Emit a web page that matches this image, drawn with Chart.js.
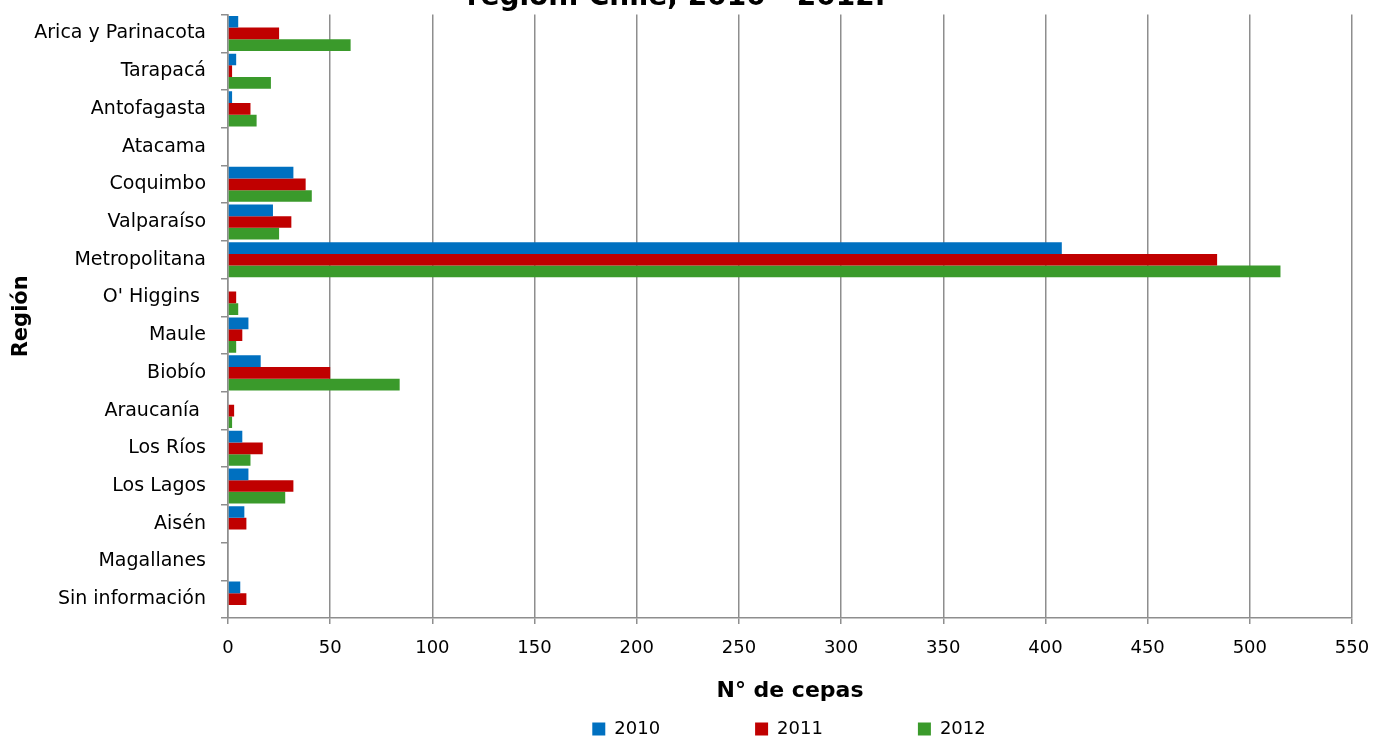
<!DOCTYPE html>
<html>
<head>
<meta charset="utf-8">
<script src="https://cdn.jsdelivr.net/npm/chart.js@4.4.0/dist/chart.umd.min.js"></script>
<style>
  html, body { margin: 0; padding: 0; background: #fff; overflow: hidden; }
  #wrap { position: relative; width: 1374px; height: 738px; overflow: hidden; }
  #box { position: absolute; left: 0; top: -19px; width: 1374px; height: 757px; }
</style>
</head>
<body>
<div id="wrap"><div id="box"><canvas id="myBarChart"></canvas></div></div>
<script>
// regiones
const regions = ['Arica y Parinacota', 'Tarapacá', 'Antofagasta', 'Atacama', 'Coquimbo', 'Valparaíso',
  'Metropolitana', "O' Higgins ", 'Maule', 'Biobío', 'Araucanía ', 'Los Ríos', 'Los Lagos', 'Aisén',
  'Magallanes', 'Sin información'];
// N° de cepas por año
const cepas2010 = [5, 4, 2, 0, 32, 22, 408, 0, 10, 16, 0, 7, 10, 8, 0, 6];
const cepas2011 = [25, 2, 11, 0, 38, 31, 484, 4, 7, 50, 3, 17, 32, 9, 0, 9];
const cepas2012 = [60, 21, 14, 0, 41, 25, 515, 5, 4, 84, 2, 11, 28, 0, 0, 0];
const years = ['2010', '2011', '2012'];
const colors = ['#0070C0', '#C00000', '#3A9A2B'];

const font = "'DejaVu Sans', Verdana, sans-serif";
const gridColor = '#8E8E8E';

// leyenda: items muy separados pero la caja baja, centrada bajo el área del gráfico
const legendPadding = 95;
const legendTweak = {
  id: 'legendTweak',
  beforeUpdate(chart) {
    const l = chart.legend;
    if (l && !l._wrapped) {
      const fit = l.fit;
      l.fit = function() {
        fit.call(this);
        this.height = 30;
      };
      l._wrapped = true;
    }
  },
  afterLayout(chart) {
    const l = chart.legend;
    const d = (chart.chartArea.left + chart.chartArea.right) / 2 - chart.width / 2 + 10;
    l.left += d;
    l.right += d;
    l.top = l.bottom - 18 - legendPadding;
  }
};

const ctx = document.getElementById('myBarChart').getContext('2d');
const myBarChart = new Chart(ctx, {
  type: 'bar',
  data: {
    labels: regions,
    datasets: [cepas2010, cepas2011, cepas2012].map((d, i) => ({
      label: years[i],
      data: d,
      backgroundColor: colors[i],
      borderWidth: 0,
      barPercentage: 1,
      categoryPercentage: 0.93
    }))
  },
  options: {
    indexAxis: 'y',
    responsive: true,
    maintainAspectRatio: false,
    animation: false,
    layout: { padding: { left: 0, right: 22, top: 0, bottom: 0 } },
    plugins: {
      title: {
        display: true,
        text: 'región. Chile, 2010 - 2012.',
        color: '#000',
        font: { family: font, size: 28, weight: 'bold' },
        padding: { top: 0, bottom: 0 }
      },
      legend: {
        position: 'bottom',
        labels: {
          color: '#000',
          font: { family: font, size: 18 },
          boxWidth: 13,
          boxHeight: 13,
          padding: legendPadding
        }
      },
      tooltip: { enabled: false }
    },
    scales: {
      x: {
        min: 0,
        max: 550,
        afterFit: s => { s.paddingRight = 0; s.paddingLeft = 0; },
        ticks: { stepSize: 50, color: '#000', font: { family: font, size: 18 }, padding: 14 },
        grid: { color: gridColor, lineWidth: 1.5, tickLength: 6 },
        border: { color: gridColor, width: 1.5 },
        title: {
          display: true,
          text: 'N° de cepas',
          color: '#000',
          font: { family: font, size: 22, weight: 'bold' },
          padding: { top: 4, bottom: 4 }
        }
      },
      y: {
        afterFit: s => { s.width = 228; },
        ticks: { color: '#000', font: { family: font, size: 19 }, padding: 15 },
        grid: { color: gridColor, lineWidth: 1.5, drawOnChartArea: false, tickLength: 7, offset: true },
        border: { color: gridColor, width: 1.5 },
        title: {
          display: true,
          text: 'Región',
          color: '#000',
          font: { family: font, size: 21, weight: 'bold' },
          padding: { top: 9, bottom: 0 }
        }
      }
    }
  },
  plugins: [legendTweak]
});
</script>
</body>
</html>
